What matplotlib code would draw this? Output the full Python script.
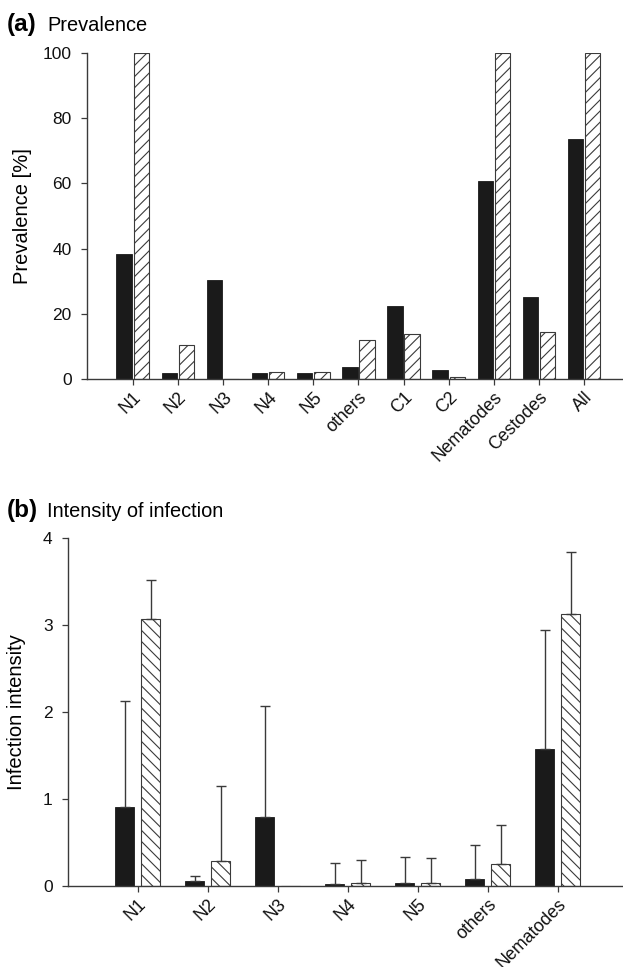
import numpy as np
import matplotlib

matplotlib.use("Agg")
import matplotlib.pyplot as plt

plt.rcParams["font.family"] = ["Liberation Sans", "DejaVu Sans"]
plt.rcParams["hatch.linewidth"] = 0.8

# (a) prevalence [%]
prev_cats = ["N1", "N2", "N3", "N4", "N5", "others", "C1", "C2", "Nematodes", "Cestodes", "All"]
prev_black = [38.3, 2.0, 30.4, 1.9, 1.9, 3.8, 22.4, 2.8, 60.8, 25.3, 73.5]
prev_hatch = [100.0, 10.5, 0.0, 2.3, 2.3, 12.0, 13.8, 0.8, 100.0, 14.5, 100.0]

# (b) infection intensity (mean, upper end of error bar)
int_cats = ["N1", "N2", "N3", "N4", "N5", "others", "Nematodes"]
int_black = [0.91, 0.06, 0.80, 0.03, 0.04, 0.08, 1.58]
int_black_top = [2.13, 0.12, 2.07, 0.27, 0.34, 0.47, 2.94]
int_hatch = [3.07, 0.29, np.nan, 0.04, 0.04, 0.26, 3.12]
int_hatch_top = [3.52, 1.15, np.nan, 0.30, 0.33, 0.70, 3.84]

DARK = "#1a1a1a"
EDGE = "#3a3a3a"

fig = plt.figure(figsize=(6.23, 9.67), dpi=100)
W, H = 623.0, 967.0


def style_axes(ax):
    for s in ("top", "right"):
        ax.spines[s].set_visible(False)
    for s in ("left", "bottom"):
        ax.spines[s].set_color(EDGE)
        ax.spines[s].set_linewidth(1.0)
    ax.tick_params(axis="both", direction="out", length=4, width=0.9,
                   color=EDGE, labelcolor="#111111")
    ax.tick_params(axis="y", labelsize=12.5, pad=7)
    ax.tick_params(axis="x", labelsize=12.8, pad=3)


def rotated_labels(ax, cats):
    ax.set_xticks(np.arange(len(cats)))
    ax.set_xticklabels(cats, rotation=45, ha="right", rotation_mode="anchor")


def panel_title(tag, text, baseline_px):
    y = 1 - baseline_px / H
    fig.text(7 / W, y, tag, fontsize=17.5, fontweight="bold", va="baseline")
    fig.text(47 / W, y, text, fontsize=14.4, va="baseline")


# ---- panel (a)
ax1 = fig.add_axes([87 / W, 1 - 379.3 / H, (622 - 87) / W, (379.3 - 52.7) / H])
x1 = np.arange(len(prev_cats))
bw1, off1 = 0.34, 0.19
ax1.bar(x1 - off1, prev_black, bw1, color=DARK, edgecolor=DARK, linewidth=0.6)
ax1.bar(x1 + off1, prev_hatch, bw1, color="white", edgecolor=EDGE,
        linewidth=0.8, hatch="///")
ax1.set_xlim(-1.013, 10.84)
ax1.set_ylim(0, 100)
ax1.set_yticks([0, 20, 40, 60, 80, 100])
ax1.set_ylabel("Prevalence [%]", fontsize=14.5, labelpad=8)
style_axes(ax1)
rotated_labels(ax1, prev_cats)
panel_title("(a)", "Prevalence", 31)

# ---- panel (b)
ax2 = fig.add_axes([68 / W, 1 - 886.3 / H, (622 - 68) / W, (886.3 - 537.7) / H])
x2 = np.arange(len(int_cats))
bw2, off2 = 0.27, 0.186
hb = np.array(int_black)
hh = np.array(int_hatch)
ax2.bar(x2 - off2, hb, bw2, color=DARK, edgecolor=DARK, linewidth=0.6)
ax2.bar(x2 + off2, np.nan_to_num(hh), bw2, color="white", edgecolor=EDGE,
        linewidth=0.8, hatch="\\\\\\")
ax2.errorbar(x2 - off2, hb, yerr=[np.zeros_like(hb), np.array(int_black_top) - hb],
             fmt="none", ecolor=EDGE, elinewidth=1.0, capsize=3.6, capthick=1.0)
ok = ~np.isnan(hh)
ax2.errorbar((x2 + off2)[ok], hh[ok],
             yerr=[np.zeros(ok.sum()), (np.array(int_hatch_top) - hh)[ok]],
             fmt="none", ecolor=EDGE, elinewidth=1.0, capsize=3.6, capthick=1.0)
ax2.set_xlim(-0.996, 6.92)
ax2.set_ylim(0, 4)
ax2.set_yticks([0, 1, 2, 3, 4])
ax2.set_ylabel("Infection intensity", fontsize=14.5, labelpad=12)
style_axes(ax2)
rotated_labels(ax2, int_cats)
panel_title("(b)", "Intensity of infection", 516.7)

fig.savefig("out.png", dpi=100)
plt.close(fig)
